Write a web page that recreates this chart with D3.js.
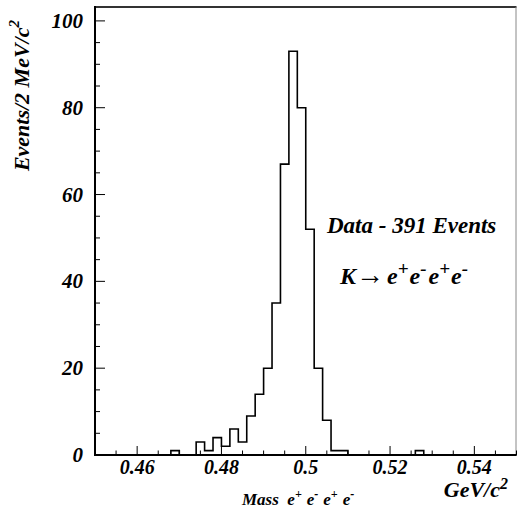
<!DOCTYPE html>
<html>
<head>
<meta charset="utf-8">
<script src="https://cdn.jsdelivr.net/npm/d3@7"></script>
<style>
  html, body { margin: 0; padding: 0; background: #fff; }
  svg text { font-family: "Liberation Serif", "DejaVu Serif", serif; font-weight: bold; font-style: italic; fill: #000; }
</style>
</head>
<body>
<svg id="chart" width="517" height="514"></svg>
<script>
// ---- data ----
const binStart = 0.45;
const binWidth = 0.002;
// counts per 2 MeV bin, 50 bins from 0.45 to 0.55 GeV/c^2
const counts = [
  0, 0, 0, 0, 0, 0, 0, 0, 0, 1,
  0, 0, 3, 1, 4, 2, 6, 3, 9, 14,
  20, 35, 67, 93, 80, 52, 20, 8, 1, 1,
  0, 0, 0, 0, 0, 0, 0, 0, 1, 0,
  0, 0, 0, 0, 0, 0, 0, 0, 0, 0
];
const xTickLabels = [0.46, 0.48, 0.5, 0.52, 0.54];
const yTickLabels = [0, 20, 40, 60, 80, 100];

// ---- layout ----
const svg = d3.select("#chart");
const L = 95, R = 516.5, T = 7, B = 455;
const x = d3.scaleLinear().domain([0.45, 0.55]).range([L, R]);
const y = d3.scaleLinear().domain([0, 103.2]).range([B, T]);

// frame (top and right)
svg.append("line").attr("x1", L).attr("x2", R).attr("y1", T).attr("y2", T)
  .attr("stroke", "#333").attr("stroke-width", 2);
svg.append("line").attr("x1", R - 0.5).attr("x2", R - 0.5).attr("y1", T).attr("y2", B)
  .attr("stroke", "#888").attr("stroke-width", 1);

// histogram outline
const pts = counts.map((c, i) => [binStart + i * binWidth, c]);
pts.push([binStart + counts.length * binWidth, counts[counts.length - 1]]);
const line = d3.line().x(d => x(d[0])).y(d => y(d[1])).curve(d3.curveStepAfter);
svg.append("path").attr("d", line(pts)).attr("fill", "none")
  .attr("stroke", "#000").attr("stroke-width", 1.6);

// x axis ticks (inside)
const xMinor = d3.range(0, 21).map(i => 0.45 + i * 0.005);
svg.selectAll(".xt").data(xMinor).enter().append("line")
  .attr("x1", d => x(d)).attr("x2", d => x(d))
  .attr("y1", B)
  .attr("y2", d => (Math.abs(Math.round(d * 50) - d * 50) < 1e-6) ? B - 9 : B - 4.5)
  .attr("stroke", "#000").attr("stroke-width", 1);
// y axis ticks (inside)
const yMinor = d3.range(0, 21).map(i => i * 5);
svg.selectAll(".yt").data(yMinor).enter().append("line")
  .attr("x1", L).attr("x2", d => (d % 20 === 0) ? L + 10 : L + 5)
  .attr("y1", d => y(d)).attr("y2", d => y(d))
  .attr("stroke", "#000").attr("stroke-width", 1);

// axes lines
svg.append("line").attr("x1", L).attr("x2", R).attr("y1", B).attr("y2", B)
  .attr("stroke", "#000").attr("stroke-width", 2);
svg.append("line").attr("x1", L).attr("x2", L).attr("y1", T - 1).attr("y2", B + 1)
  .attr("stroke", "#000").attr("stroke-width", 2);

// tick labels
svg.selectAll(".xl").data(xTickLabels).enter().append("text")
  .attr("x", d => x(d)).attr("y", 474)
  .attr("text-anchor", "middle").attr("font-size", 20)
  .text(d => d3.format("")(d));
svg.selectAll(".yl").data(yTickLabels).enter().append("text")
  .attr("x", 83).attr("y", d => y(d) + 7)
  .attr("text-anchor", "end").attr("font-size", 21)
  .text(d => d);

// axis titles
const gev = svg.append("text").attr("x", 508).attr("y", 497)
  .attr("text-anchor", "end").attr("font-size", 22);
gev.append("tspan").text("GeV/c");
gev.append("tspan").attr("dy", -8).attr("font-size", 16).text("2");

function supText(sel, base, sups, supSize, rise, gap) {
  sel.append("tspan").text(base);
  sups.forEach(([b, s], i) => {
    sel.append("tspan").attr("dx", i === 0 ? 0 : gap).attr("dy", i === 0 ? 0 : rise).text(b);
    sel.append("tspan").attr("dy", -rise).attr("font-size", supSize).text(s);
  });
}

const mass = svg.append("text").attr("x", 242).attr("y", 505).attr("font-size", 17);
supText(mass, "Mass\u00a0\u00a0", [["e", "+"], ["e", "-"], ["e", "+"], ["e", "-"]], 12, 7, 5);

const ytitle = svg.append("text")
  .attr("transform", "translate(29,20) rotate(-90)")
  .attr("text-anchor", "end").attr("font-size", 22);
ytitle.append("tspan").text("Events/2 MeV/c");
ytitle.append("tspan").attr("dy", -10).attr("font-size", 15).text("2");

// legend text
svg.append("text").attr("x", 327).attr("y", 233).attr("font-size", 23)
  .text("Data - 391 Events");
const k = svg.append("text").attr("x", 340).attr("y", 284).attr("font-size", 24);
k.append("tspan").text("K");
k.append("tspan").attr("font-style", "normal").attr("font-weight", "normal").attr("font-size", 28).text("\u2192");
k.append("tspan").attr("dx", 3).text("e");
k.append("tspan").attr("dy", -9).attr("font-size", 19).text("+");
k.append("tspan").attr("dx", 1).attr("dy", 9).text("e");
k.append("tspan").attr("dy", -9).attr("font-size", 19).text("-");
k.append("tspan").attr("dx", 2).attr("dy", 9).text("e");
k.append("tspan").attr("dy", -9).attr("font-size", 19).text("+");
k.append("tspan").attr("dx", 1).attr("dy", 9).text("e");
k.append("tspan").attr("dy", -9).attr("font-size", 19).text("-");
</script>
</body>
</html>
